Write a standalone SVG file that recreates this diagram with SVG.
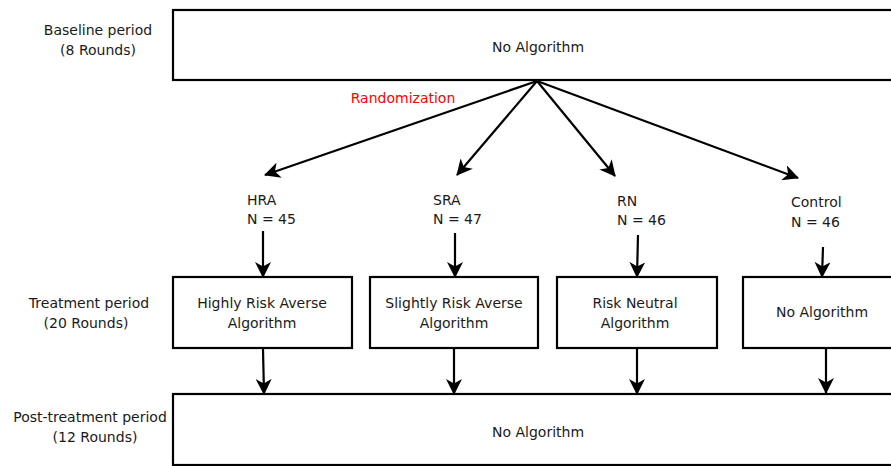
<svg xmlns="http://www.w3.org/2000/svg" width="891" height="466" viewBox="0 0 891 466">
<style>
text{font-family:"DejaVu Sans","Verdana",sans-serif;font-size:14px;fill:#1a1a1a}
.c{text-anchor:middle}
.box{fill:#fff;stroke:#000;stroke-width:2.2}
.ln{fill:none;stroke:#000;stroke-width:2.2;marker-end:url(#ah)}
.red{fill:#ff0000}
</style>
<defs>
<marker id="ah" markerUnits="userSpaceOnUse" viewBox="0 0 16 16" refX="15" refY="8" markerWidth="16" markerHeight="16" orient="auto">
<path d="M0,0 L16,8 L0,16 L4.5,8 Z" fill="#000"/>
</marker>
</defs>
<rect width="891" height="466" fill="#fff"/>
<g id="labels">
<text class="c" x="98" y="35">Baseline period</text>
<text class="c" x="98" y="55">(8 Rounds)</text>
<text class="c" x="89" y="308">Treatment period</text>
<text class="c" x="86" y="328">(20 Rounds)</text>
<text class="c" x="90" y="422">Post-treatment period</text>
<text class="c" x="95" y="442">(12 Rounds)</text>
<text class="c red" x="403" y="103">Randomization</text>
</g>
<g id="baseline">
<rect class="box" x="173" y="10" width="740" height="70"/>
<text class="c" x="538" y="52">No Algorithm</text>
</g>
<g id="hra-label"><text x="247" y="205">HRA</text><text x="247" y="224">N = 45</text></g>
<g id="sra-label"><text x="433" y="205">SRA</text><text x="433" y="224">N = 47</text></g>
<g id="rn-label"><text x="617" y="206">RN</text><text x="617" y="225">N = 46</text></g>
<g id="control-label"><text x="791" y="207">Control</text><text x="791" y="227">N = 46</text></g>
<g id="hra-box">
<rect class="box" x="173" y="277" width="179" height="71"/>
<text class="c" x="262" y="308">Highly Risk Averse</text>
<text class="c" x="262" y="328">Algorithm</text>
</g>
<g id="sra-box">
<rect class="box" x="370" y="277" width="168" height="71"/>
<text class="c" x="454" y="308">Slightly Risk Averse</text>
<text class="c" x="454" y="328">Algorithm</text>
</g>
<g id="rn-box">
<rect class="box" x="557" y="277" width="160" height="71"/>
<text class="c" x="635" y="308">Risk Neutral</text>
<text class="c" x="635" y="328">Algorithm</text>
</g>
<g id="control-box">
<rect class="box" x="743" y="277" width="165" height="71"/>
<text class="c" x="822" y="317">No Algorithm</text>
</g>
<g id="post">
<rect class="box" x="173" y="394" width="740" height="71"/>
<text class="c" x="538" y="437">No Algorithm</text>
</g>
<g id="connectors">
<line class="ln" x1="537" y1="81" x2="265" y2="175"/>
<line class="ln" x1="537" y1="81" x2="457" y2="175"/>
<line class="ln" x1="537" y1="81" x2="615" y2="176"/>
<line class="ln" x1="537" y1="81" x2="798" y2="178"/>
<line class="ln" x1="263" y1="231" x2="263" y2="277"/>
<line class="ln" x1="455" y1="233" x2="455" y2="277"/>
<line class="ln" x1="638" y1="235" x2="637" y2="277"/>
<line class="ln" x1="823" y1="247" x2="822" y2="277"/>
<line class="ln" x1="263" y1="349" x2="264" y2="394"/>
<line class="ln" x1="454" y1="349" x2="454" y2="394"/>
<line class="ln" x1="637" y1="349" x2="637" y2="394"/>
<line class="ln" x1="826" y1="348" x2="826" y2="393"/>
</g>
</svg>
